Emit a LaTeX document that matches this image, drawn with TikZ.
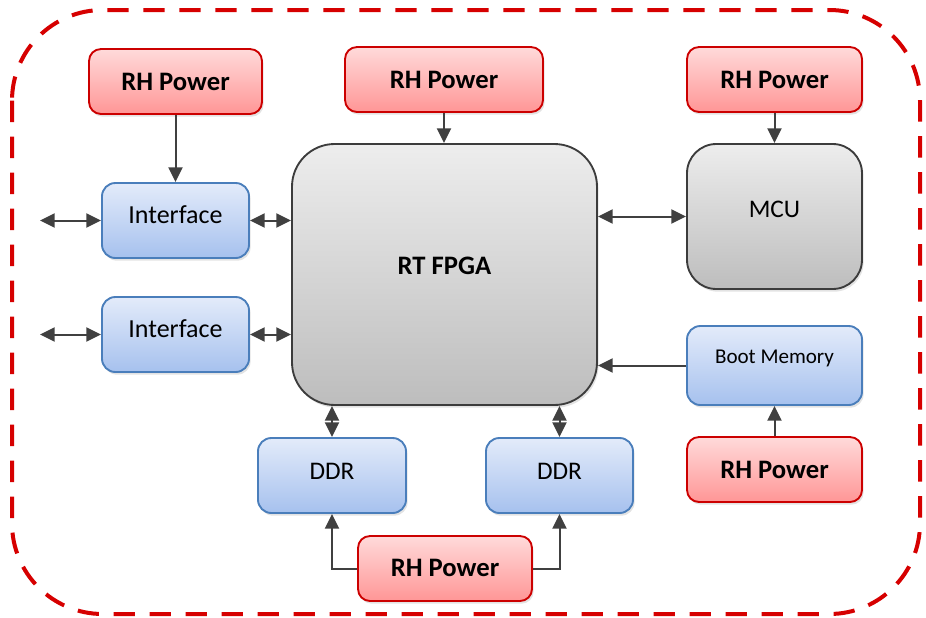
\documentclass[tikz,border=0pt]{standalone}
\usepackage{fontspec}
\setmainfont{Carlito}
\usetikzlibrary{arrows.meta,shadows}
\definecolor{arrc}{HTML}{404040}
\definecolor{redline}{HTML}{CC0000}
\definecolor{redtop}{HTML}{FFDADA}
\definecolor{redbot}{HTML}{FF9696}
\definecolor{bluline}{HTML}{4A7EBB}
\definecolor{blutop}{HTML}{E3EBFA}
\definecolor{blubot}{HTML}{A6C1EE}
\definecolor{grayline}{HTML}{3C3C3C}
\definecolor{graytop}{HTML}{EDEDED}
\definecolor{graybot}{HTML}{BDBDBD}
\definecolor{dashred}{HTML}{D60000}
\tikzset{
  boxbase/.style={rectangle, line width=1.4pt, inner sep=0pt,
    drop shadow={opacity=0.22, shadow xshift=1.2pt, shadow yshift=-2pt}},
  redbox/.style={boxbase, draw=redline, top color=redtop, bottom color=redbot, rounded corners=9pt},
  bluebox/.style={boxbase, draw=bluline, top color=blutop, bottom color=blubot, rounded corners=10pt},
  graybox/.style={boxbase, draw=grayline, top color=graytop, bottom color=graybot},
  sz/.style 2 args={minimum width=#1*0.75pt, minimum height=#2*0.75pt},
  lbl/.style={anchor=base, inner sep=0pt, text=black},
  arr/.style={draw=arrc, line width=1.5pt, -{Triangle[length=11pt,width=10.5pt]}},
  dbl/.style={draw=arrc, line width=1.5pt, {Triangle[length=11pt,width=10.5pt]}-{Triangle[length=11pt,width=10.5pt]}},
  border/.style={draw=dashred, line width=3pt, dash pattern=on 16pt off 11pt, rounded corners=68pt}
}
\begin{document}
\begin{tikzpicture}[x=0.75pt,y=-0.75pt]
\useasboundingbox (0,0) rectangle (926,618);
\draw[border] (12,10) rectangle (920,614);

% boxes
\node[redbox, sz={173}{65}] (pw1) at (175.5,81.5) {};
\node[redbox, sz={198}{65}] (pw2) at (444,79.5) {};
\node[redbox, sz={175}{65}] (pw3) at (774.5,79.5) {};
\node[bluebox, sz={147}{75}] (if1) at (175.5,220.5) {};
\node[bluebox, sz={147}{75}] (if2) at (175.5,334.5) {};
\node[graybox, sz={305}{261}, rounded corners=32pt] (fpga) at (444.5,274.5) {};
\node[graybox, sz={175}{145}, rounded corners=22pt] (mcu) at (774.5,216.5) {};
\node[bluebox, sz={175}{79}] (boot) at (774.5,365.5) {};
\node[redbox, sz={175}{65}] (pw4) at (774.5,469.5) {};
\node[bluebox, sz={148}{75}] (ddr1) at (332,475.5) {};
\node[bluebox, sz={147}{75}] (ddr2) at (559.5,475.5) {};
\node[redbox, sz={174}{65}] (pw5) at (445,568.5) {};

% labels
\node[lbl, font=\fontsize{20}{24}\selectfont\bfseries] (t1) at (175.5,90) {RH Power};
\node[lbl, font=\fontsize{20}{24}\selectfont\bfseries] (t2) at (444,88) {RH Power};
\node[lbl, font=\fontsize{20}{24}\selectfont\bfseries] (t3) at (774.5,88) {RH Power};
\node[lbl, font=\fontsize{19.5}{24}\selectfont] (t4) at (175.5,223) {Interface};
\node[lbl, font=\fontsize{19.5}{24}\selectfont] (t5) at (175.5,337.5) {Interface};
\node[lbl, font=\fontsize{20}{24}\selectfont\bfseries] (t6) at (444.5,274.5) {RT FPGA};
\node[lbl, font=\fontsize{19}{24}\selectfont] (t7) at (774.5,217) {MCU};
\node[lbl, font=\fontsize{15.8}{20}\selectfont] (t8) at (774.5,363) {Boot Memory};
\node[lbl, font=\fontsize{20}{24}\selectfont\bfseries] (t9) at (774.5,478) {RH Power};
\node[lbl, font=\fontsize{19}{24}\selectfont] (t10) at (332,479) {DDR};
\node[lbl, font=\fontsize{19}{24}\selectfont] (t11) at (559.5,479) {DDR};
\node[lbl, font=\fontsize{20}{24}\selectfont\bfseries] (t12) at (445,576.5) {RH Power};

% external ends
\coordinate (ext1) at (40,220.5);
\coordinate (ext2) at (40,334.5);

% connectors
\draw[arr] (pw1.south) -- (if1.north);
\draw[arr] (pw2.south) -- (pw2.south |- fpga.north);
\draw[arr] (pw3.south) -- (mcu.north);
\draw[dbl] (ext1) -- (if1.west);
\draw[dbl] (ext2) -- (if2.west);
\draw[dbl] (if1.east) -- (if1.east -| fpga.west);
\draw[dbl] (if2.east) -- (if2.east -| fpga.west);
\draw[dbl] (mcu.west -| fpga.east) -- (mcu.west);
\draw[arr] (boot.west) -- (boot.west -| fpga.east);
\draw[arr] (pw4.north) -- (boot.south);
\draw[dbl] (ddr1.north |- fpga.south) -- (ddr1.north);
\draw[dbl] (ddr2.north |- fpga.south) -- (ddr2.north);
\draw[arr] (pw5.west) -| (ddr1.south);
\draw[arr] (pw5.east) -| (ddr2.south);
\end{tikzpicture}
\end{document}
